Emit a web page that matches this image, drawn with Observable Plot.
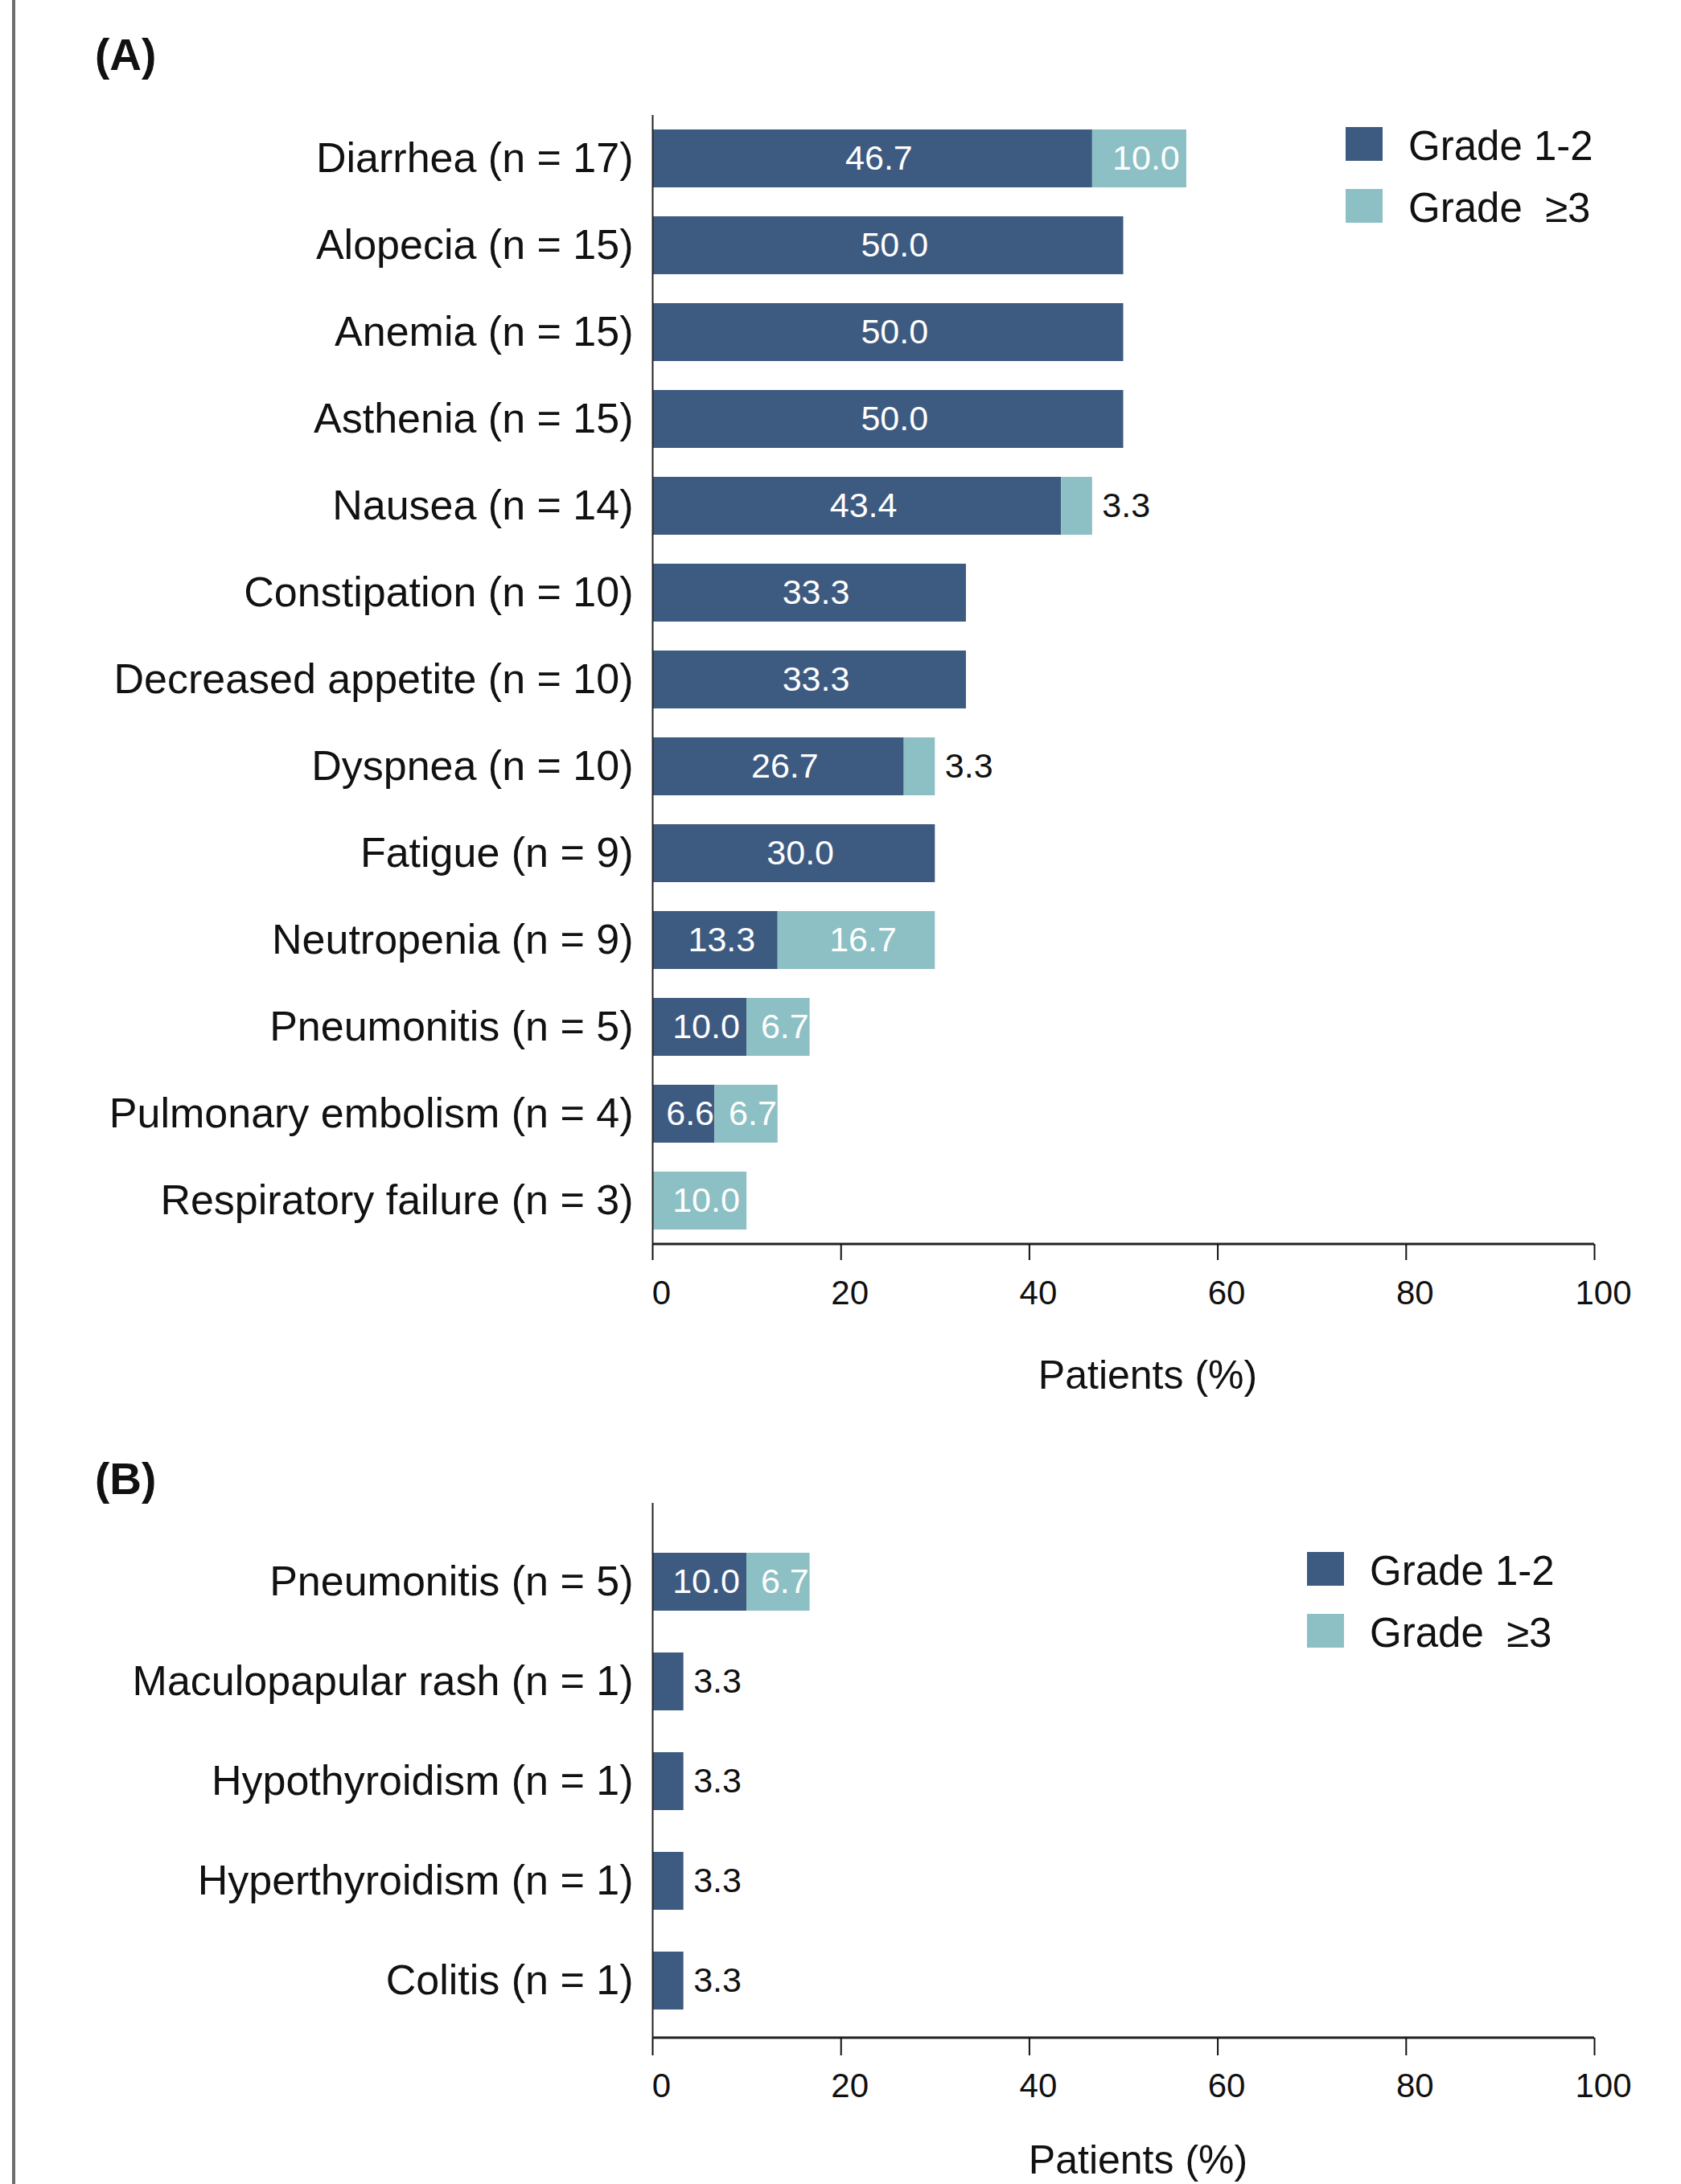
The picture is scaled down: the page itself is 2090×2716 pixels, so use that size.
<!DOCTYPE html>
<html>
<head>
<meta charset="utf-8">
<script src="https://cdn.jsdelivr.net/npm/d3@7"></script>
<script src="https://cdn.jsdelivr.net/npm/@observablehq/plot@0.6"></script>
<style>
html, body { margin: 0; padding: 0; background: #fff; }
#page { position: relative; width: 2090px; height: 2716px; overflow: hidden; font-family: "Liberation Sans", Arial, sans-serif; color: #111; background: #fff; }
.border { position: absolute; left: 15px; top: 0; width: 4px; height: 2716px; background: #6e6e6e; }
.panel-title { position: absolute; left: 118px; font-size: 55px; font-weight: bold; line-height: 55px; }
.chart { position: absolute; left: 0; }
.legend { position: absolute; }
.legend .row { display: flex; align-items: center; height: 42px; margin-bottom: 35px; }
.legend .sw { width: 46px; height: 42px; margin-right: 32px; }
.legend .lab { font-size: 51px; white-space: pre; line-height: 42px; color: #111; position: relative; top: 3px; }
</style>
</head>
<body>
<div id="page">
  <div class="border"></div>
  <div class="panel-title" style="top:41px">(A)</div>
  <div class="panel-title" style="top:1812px">(B)</div>
</div>
<script>
// ---------------- data ----------------
const panelACategories = [
  "Diarrhea (n = 17)", "Alopecia (n = 15)", "Anemia (n = 15)", "Asthenia (n = 15)",
  "Nausea (n = 14)", "Constipation (n = 10)", "Decreased appetite (n = 10)", "Dyspnea (n = 10)",
  "Fatigue (n = 9)", "Neutropenia (n = 9)", "Pneumonitis (n = 5)", "Pulmonary embolism (n = 4)",
  "Respiratory failure (n = 3)"
];
const panelAGrade12 = [46.7, 50.0, 50.0, 50.0, 43.4, 33.3, 33.3, 26.7, 30.0, 13.3, 10.0, 6.6, 0];
const panelAGrade3 = [10.0, 0, 0, 0, 3.3, 0, 0, 3.3, 0, 16.7, 6.7, 6.7, 10.0];

const panelBCategories = [
  "Pneumonitis (n = 5)", "Maculopapular rash (n = 1)", "Hypothyroidism (n = 1)",
  "Hyperthyroidism (n = 1)", "Colitis (n = 1)"
];
const panelBGrade12 = [10.0, 3.3, 3.3, 3.3, 3.3];
const panelBGrade3 = [6.7, 0, 0, 0, 0];

const grades = ["Grade 1-2", "Grade  \u22653"];
const gradeColors = ["#3d5a80", "#8cc0c4"];
const xTicks = [0, 20, 40, 60, 80, 100];
const xTickLabels = ["0", "20", "40", "60", "80", "100"];
const xLabel = "Patients (%)";

// ---------------- drawing ----------------
const W = 2090;
const ML = 811, MR = 108;
const fmt = d3.format(".1f");
const FONT = '"Liberation Sans", Arial, sans-serif';

function chart(cats, g12, g3, cfg) {
  const rows = cats.flatMap((c, i) => [
    {cat: c, grade: grades[0], value: g12[i]},
    {cat: c, grade: grades[1], value: g3[i]}
  ]);
  const H = cfg.height;
  const bottomAxisLine = () => d3.create("svg:line")
    .attr("x1", ML).attr("x2", W - MR)
    .attr("y1", H - cfg.marginBottom).attr("y2", H - cfg.marginBottom)
    .attr("stroke", "#222").attr("stroke-width", 3).node();
  return Plot.plot({
    width: W,
    height: H,
    marginLeft: ML,
    marginRight: MR,
    marginTop: cfg.marginTop,
    marginBottom: cfg.marginBottom,
    insetTop: cfg.insetTop,
    insetBottom: cfg.insetBottom,
    style: {fontFamily: FONT, color: "#111", background: "transparent", overflow: "visible"},
    x: {domain: [0, 100], label: null},
    y: {domain: cats, paddingInner: cfg.pad, paddingOuter: cfg.pad / 2, label: null},
    color: {domain: grades, range: gradeColors},
    marks: [
      Plot.barX(rows, Plot.stackX({x: "value", y: "cat", fill: "grade"})),
      Plot.text(rows, Plot.stackX({
        x: "value", y: "cat", z: "grade",
        text: d => d.value >= 5 ? fmt(d.value) : null,
        fill: "white", fontSize: 43, dx: 8
      })),
      Plot.text(rows, Plot.stackX2({
        x: "value", y: "cat", z: "grade",
        text: d => d.value > 0 && d.value < 5 ? fmt(d.value) : null,
        fill: "#111", fontSize: 43, textAnchor: "start", dx: 12
      })),
      Plot.ruleX([0], {stroke: "#222", strokeWidth: 2}),
      bottomAxisLine,
      // tick marks
      Plot.axisX({
        ticks: xTicks, tickFormat: () => "",
        tickSize: cfg.tickSize, strokeWidth: 2, label: null
      }),
      // tick labels
      Plot.axisX({
        ticks: xTicks, tickFormat: (d, i) => xTickLabels[i],
        tickSize: 0, tickPadding: cfg.tickSize + cfg.tickPadding,
        fontSize: 42, label: null, dx: 11
      }),
      Plot.axisY({tickSize: 0, tickPadding: 24, fontSize: 52, label: null}),
      Plot.text([xLabel], {
        text: d => d, frameAnchor: "bottom", lineAnchor: "middle",
        dy: cfg.labelDy, dx: cfg.labelDx,
        fontSize: 50, fill: "#111"
      })
    ]
  });
}

function legend(left, top) {
  const div = document.createElement("div");
  div.className = "legend";
  div.style.left = left + "px";
  div.style.top = top + "px";
  grades.forEach((g, i) => {
    const row = document.createElement("div");
    row.className = "row";
    const sw = document.createElement("div");
    sw.className = "sw";
    sw.style.background = gradeColors[i];
    const lab = document.createElement("div");
    lab.className = "lab";
    lab.textContent = g;
    row.appendChild(sw);
    row.appendChild(lab);
    div.appendChild(row);
  });
  return div;
}

const page = document.getElementById("page");

const svgA = chart(panelACategories, panelAGrade12, panelAGrade3, {
  height: 1660, marginTop: 23, marginBottom: 233, insetTop: 0, insetBottom: 0,
  pad: 0.33, tickSize: 20, tickPadding: 25, labelDy: 163, labelDx: 30
});
svgA.classList.add("chart");
svgA.style.position = "absolute";
svgA.style.top = "120px";
page.appendChild(svgA);

const svgB = chart(panelBCategories, panelBGrade12, panelBGrade3, {
  height: 850, marginTop: 3, marginBottom: 182, insetTop: 36, insetBottom: 9,
  pad: 0.42, tickSize: 22, tickPadding: 22, labelDy: 152, labelDx: 18
});
svgB.classList.add("chart");
svgB.style.position = "absolute";
svgB.style.top = "1866px";
page.appendChild(svgB);

page.appendChild(legend(1673, 158));
page.appendChild(legend(1625, 1930));
</script>
</body>
</html>
